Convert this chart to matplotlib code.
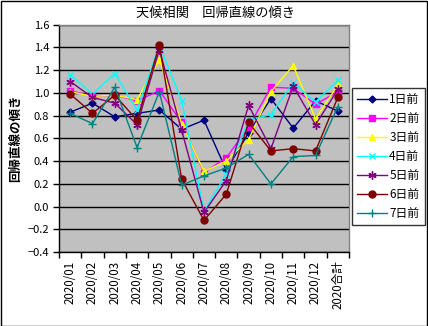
import matplotlib
matplotlib.use("Agg")
import matplotlib.pyplot as plt
from matplotlib.patches import Rectangle
from matplotlib.ticker import FixedLocator, NullFormatter
import numpy as np

plt.rcParams['font.family'] = ['Noto Sans CJK JP', 'DejaVu Sans']

categories = ["2020/01", "2020/02", "2020/03", "2020/04", "2020/05", "2020/06",
              "2020/07", "2020/08", "2020/09", "2020/10", "2020/11", "2020/12",
              "2020合計"]

lag1 = [0.83, 0.91, 0.79, 0.82, 0.85, 0.68, 0.76, 0.32, 0.65, 0.95, 0.69, 0.93, 0.84]
lag2 = [1.02, 0.97, 0.98, 0.93, 1.02, 0.74, 0.30, 0.43, 0.70, 1.05, 1.04, 0.90, 1.01]
lag3 = [1.01, 0.97, 0.98, 0.94, 1.29, 0.73, 0.31, 0.40, 0.59, 1.01, 1.24, 0.77, 1.07]
lag4 = [1.16, 0.99, 1.17, 0.85, 1.42, 0.93, -0.04, 0.29, 0.76, 0.81, 1.09, 0.92, 1.11]
lag5 = [1.10, 0.96, 0.91, 0.72, 1.38, 0.67, -0.05, 0.23, 0.89, 0.51, 1.06, 0.72, 1.03]
lag6 = [0.99, 0.82, 0.98, 0.76, 1.42, 0.24, -0.12, 0.11, 0.74, 0.49, 0.51, 0.49, 0.96]
lag7 = [0.82, 0.73, 1.05, 0.52, 1.01, 0.19, 0.27, 0.34, 0.46, 0.20, 0.44, 0.45, 0.88]

series_labels = ["1日前", "2日前", "3日前", "4日前", "5日前", "6日前", "7日前"]
series_values = [lag1, lag2, lag3, lag4, lag5, lag6, lag7]

styles = [
    dict(color="#000080", marker="D", ms=3.5),
    dict(color="#FF00FF", marker="s", ms=4.5),
    dict(color="#FFFF00", marker="^", ms=5),
    dict(color="#00FFFF", marker="x", ms=5, mew=1.0),
    dict(color="#800080", marker=(6, 2, 0), ms=6, mew=1.0),
    dict(color="#800000", marker="o", ms=5),
    dict(color="#008080", marker="+", ms=6, mew=1.0),
]

W, H = 428, 326
fig = plt.figure(figsize=(W / 100, H / 100), dpi=100)
fig.patch.set_facecolor("white")

left, right, top, bottom = 59, 349, 24.6, 252.2
ax = fig.add_axes([left / W, 1 - bottom / H, (right - left) / W, (bottom - top) / H])
ax.set_facecolor("#C0C0C0")

x = np.arange(len(categories))
for vals, lab, st in zip(series_values, series_labels, styles):
    ax.plot(x, vals, color=st["color"], lw=1.0, marker=st["marker"],
            ms=st["ms"], mew=st.get("mew", 1.0), mfc=st["color"], mec=st["color"],
            label=lab, clip_on=False, zorder=3)

ax.set_xlim(-0.5, len(categories) - 0.5)
ax.set_ylim(-0.4, 1.6)
yt = np.round(np.arange(-0.4, 1.61, 0.2), 1)
ax.set_yticks(yt)
ax.set_yticklabels([f"{v:.1f}".replace("-", "\u2212") for v in yt], fontsize=8)
ax.yaxis.grid(True, color="black", lw=1.0)
ax.set_axisbelow(True)

ax.set_xticks(x)
ax.set_xticklabels(categories, rotation=90, fontsize=8.3)
ax.tick_params(axis="x", length=0, pad=6)
ax.xaxis.set_minor_locator(FixedLocator(np.arange(-0.5, len(categories), 1.0)))
ax.xaxis.set_minor_formatter(NullFormatter())
ax.tick_params(axis="x", which="minor", length=4, width=1, color="black", direction="out")
ax.tick_params(axis="y", length=4, width=1, direction="out", pad=3)

for s in ("left", "bottom"):
    ax.spines[s].set_color("black")
    ax.spines[s].set_linewidth(1.0)
for s in ("top", "right"):
    ax.spines[s].set_color("#808080")
    ax.spines[s].set_linewidth(1.0)

ax.set_ylabel("回帰直線の傾き", fontsize=9, fontweight="bold", labelpad=4)
fig.text(216 / W, 1 - 13 / H, "天候相関\u3000回帰直線の傾き", ha="center", va="center", fontsize=9.5)

leg = fig.legend(loc="upper left", bbox_to_anchor=(352 / W, 1 - 88 / H),
                 frameon=True, fancybox=False, fontsize=8.5, handlelength=2.5,
                 handletextpad=0.2, borderpad=0.45, labelspacing=0.5,
                 borderaxespad=0)
leg.get_frame().set_edgecolor("black")
leg.get_frame().set_linewidth(1.0)

fig.patches.append(Rectangle((0.5 / W, 0.5 / H), 1 - 1.5 / W, 1 - 1.5 / H,
                             transform=fig.transFigure, fill=False,
                             edgecolor="black", lw=1.0))

fig.savefig("out.png", dpi=100)
